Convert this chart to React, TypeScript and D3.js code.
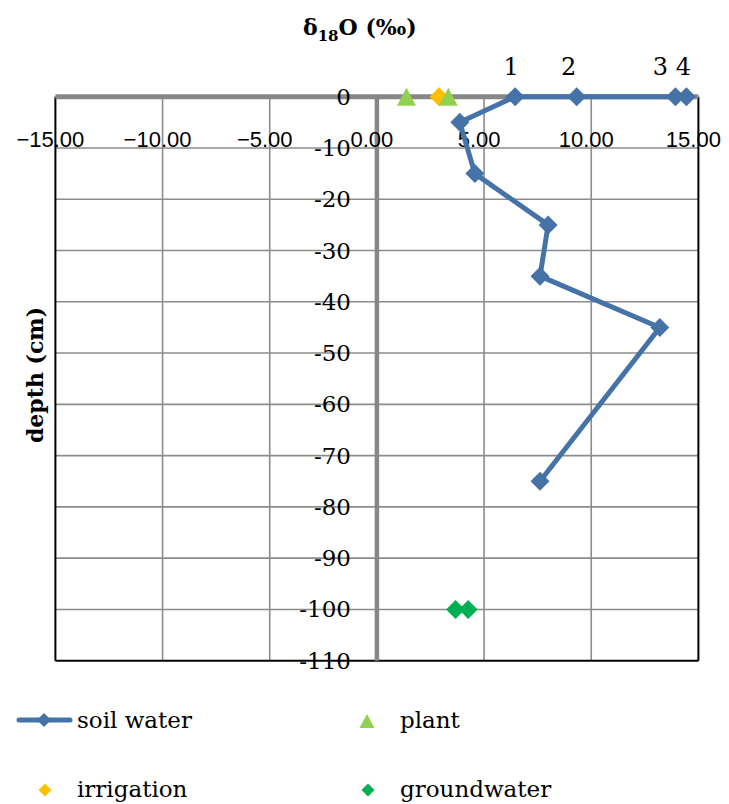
import React from 'react';
import * as d3 from 'd3';

// Axis ticks
const xTicks = [-15, -10, -5, 0, 5, 10, 15];
const yTicks = [0, -10, -20, -30, -40, -50, -60, -70, -80, -90, -100, -110];

// Soil water profile (δ18O ‰ vs depth cm), surface samples first
const soilDelta = [14.44, 13.93, 9.32, 6.45, 3.87, 4.57, 7.99, 7.61, 13.2, 7.61];
const soilDepth = [0, 0, 0, 0, -5, -15, -25, -35, -45, -75];
const soilLabels = ['4', '3', '2', '1'];

const plantDelta = [1.38, 3.33];
const plantDepth = [0, 0];

const irrigationDelta = [2.9];
const irrigationDepth = [0];

const groundwaterDelta = [3.67, 4.26];
const groundwaterDepth = [-100, -100];

const COLORS = {
  soil: '#4572A7',
  plant: '#92D050',
  irrigation: '#FFC000',
  groundwater: '#00B050',
  axis: '#878787',
  grid: '#8c8c8c',
};

const SERIF = '"DejaVu Serif", "Liberation Serif", serif';
const SANS = '"Liberation Sans", Arial, sans-serif';

const diamond = (cx: number, cy: number, r: number) =>
  `M${cx},${cy - r}L${cx + r},${cy}L${cx},${cy + r}L${cx - r},${cy}Z`;
const triangle = (cx: number, cy: number, w: number, h: number) =>
  `M${cx},${cy - h / 2}L${cx + w / 2},${cy + h / 2}L${cx - w / 2},${cy + h / 2}Z`;

export default function App() {
  const x = d3.scaleLinear().domain([-15, 15]).range([55.4, 698.4]);
  const y = d3.scaleLinear().domain([0, -110]).range([96.7, 660.7]);

  const soilPts: [number, number][] = soilDelta.map((d, i) => [x(d), y(soilDepth[i])]);
  const line = d3.line<[number, number]>()(soilPts) || '';

  const fmtX = (v: number) => (v < 0 ? '\u2212' : '') + Math.abs(v).toFixed(2);
  const fmtY = (v: number) => (v < 0 ? '-' : '') + Math.abs(v);

  // per-label nudges so neighbouring surface labels stay readable
  const labelDx: Record<string, number> = { '1': -4, '2': -8, '3': -15, '4': -3 };

  const [x0, x1] = x.range();
  const [y0, y1] = y.range();

  return (
    <svg
      width={729}
      height={804}
      style={{ position: 'absolute', left: 0, top: 0, background: '#fff' }}
    >
      <rect width={729} height={804} fill="#fff" />

      {/* grid */}
      {xTicks
        .filter((t) => t !== 0 && t !== -15 && t !== 15)
        .map((t) => (
          <line key={'gx' + t} x1={x(t)} x2={x(t)} y1={y0} y2={y1} stroke={COLORS.grid} strokeWidth={1.6} />
        ))}
      {yTicks
        .filter((t) => t !== 0 && t !== -110)
        .map((t) => (
          <line key={'gy' + t} x1={x0} x2={x1} y1={y(t)} y2={y(t)} stroke={COLORS.grid} strokeWidth={1.6} />
        ))}

      {/* plot border */}
      <line x1={x0} x2={x0} y1={y0} y2={y1} stroke="#000" strokeWidth={2} />
      <line x1={x1} x2={x1} y1={y0} y2={y1} stroke="#000" strokeWidth={2} />
      <line x1={x0} x2={x1} y1={y1} y2={y1} stroke="#000" strokeWidth={2} />

      {/* zero axes */}
      <line x1={x0} x2={x1} y1={y(0)} y2={y(0)} stroke={COLORS.axis} strokeWidth={5} />
      <line x1={x(0)} x2={x(0)} y1={y0 - 2} y2={y1} stroke={COLORS.axis} strokeWidth={4.5} />

      {/* x tick labels */}
      {xTicks.map((t) => (
        <text
          key={'tx' + t}
          x={x(t) - 5}
          y={147}
          textAnchor="middle"
          fontFamily={SANS}
          fontSize={22}
          fill="#000"
        >
          {fmtX(t)}
        </text>
      ))}

      {/* y tick labels */}
      {yTicks.map((t) => (
        <text
          key={'ty' + t}
          x={351}
          y={y(t) + 8}
          textAnchor="end"
          fontFamily={SERIF}
          fontSize={23}
          fill="#000"
        >
          {fmtY(t)}
        </text>
      ))}

      {/* titles */}
      <text x={303} y={35} fontFamily={SERIF} fontWeight="bold" fontSize={22} fill="#000">
        δ<tspan fontSize={15} dy={6}>18</tspan>
        <tspan dy={-6}>O (‰)</tspan>
      </text>
      <text
        transform={`translate(43,375) rotate(-90)`}
        textAnchor="middle"
        fontFamily={SERIF}
        fontWeight="bold"
        fontSize={22}
        fill="#000"
      >
        depth (cm)
      </text>

      {/* soil water */}
      <path d={line} fill="none" stroke={COLORS.soil} strokeWidth={5} strokeLinejoin="round" />
      {soilPts.map(([px, py], i) => (
        <path key={'sp' + i} d={diamond(px, py, 9.5)} fill={COLORS.soil} />
      ))}
      {soilLabels.map((lab, i) => (
        <text
          key={'sl' + lab}
          x={soilPts[i][0] + labelDx[lab]}
          y={75}
          textAnchor="middle"
          fontFamily={SERIF}
          fontSize={24}
          fill="#000"
        >
          {lab}
        </text>
      ))}

      {/* irrigation */}
      {irrigationDelta.map((d, i) => (
        <path key={'ir' + i} d={diamond(x(d), y(irrigationDepth[i]), 9.5)} fill={COLORS.irrigation} />
      ))}

      {/* plant */}
      {plantDelta.map((d, i) => (
        <path key={'pl' + i} d={triangle(x(d), y(plantDepth[i]), 19, 18)} fill={COLORS.plant} />
      ))}

      {/* groundwater */}
      {groundwaterDelta.map((d, i) => (
        <path key={'gw' + i} d={diamond(x(d), y(groundwaterDepth[i]), 9.5)} fill={COLORS.groundwater} />
      ))}

      {/* legend */}
      <line x1={19} x2={70} y1={720} y2={720} stroke={COLORS.soil} strokeWidth={5} strokeLinecap="round" />
      <path d={diamond(44, 720, 7)} fill={COLORS.soil} />
      <text x={77} y={728} fontFamily={SERIF} fontSize={23} fill="#000">soil water</text>

      <path d={triangle(367, 721, 15, 14)} fill={COLORS.plant} />
      <text x={400} y={728} fontFamily={SERIF} fontSize={23} fill="#000">plant</text>

      <path d={diamond(45, 790, 6.5)} fill={COLORS.irrigation} />
      <text x={77} y={797} fontFamily={SERIF} fontSize={23} fill="#000">irrigation</text>

      <path d={diamond(368, 790, 6.5)} fill={COLORS.groundwater} />
      <text x={400} y={797} fontFamily={SERIF} fontSize={23} fill="#000">groundwater</text>
    </svg>
  );
}
